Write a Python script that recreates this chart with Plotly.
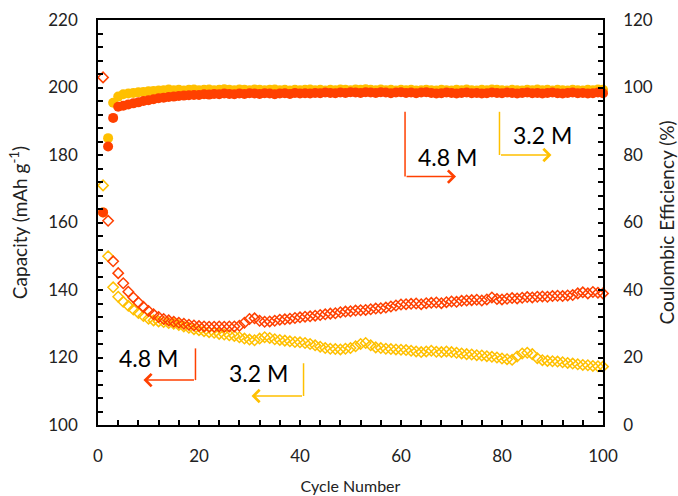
import plotly.graph_objects as go

cycles = list(range(1, 101))

# Discharge capacity (mAh g-1), left axis
cap_48 = [203, 160.5, 148.5, 145, 142, 139.5, 137.8, 136.3, 135, 133.8,
          132.8, 132, 131.4, 131, 130.6, 130.3, 130, 129.7, 129.5, 129.3,
          129.2, 129.1, 129.1, 129.2, 129.1, 129.2, 129.2, 129.4, 130.3, 131.4,
          131.6, 130.9, 130.6, 130.7, 130.9, 131.2, 131.3, 131.5, 131.7, 131.9,
          132.1, 132.2, 132.4, 132.6, 132.8, 133.0, 133.1, 133.4, 133.6, 133.7,
          133.9, 134.0, 134.1, 134.3, 134.5, 134.6, 134.8, 135.1, 135.4, 135.7,
          135.8, 135.9, 136.0, 135.8, 136.1, 136.2, 136.3, 136.1, 136.4, 136.6,
          136.5, 136.8, 136.9, 137.0, 137.1, 136.9, 137.2, 137.8, 137.3, 137.2,
          137.4, 137.6, 137.5, 137.7, 137.9, 137.8, 138.0, 138.1, 138.0, 138.2,
          138.3, 138.2, 138.4, 138.5, 139.0, 139.3, 139.0, 139.4, 139.2, 139.0]

cap_32 = [171, 150, 140.8, 138, 136.5, 135.3, 134.2, 133.2, 132.3, 131.5,
          131.0, 130.7, 130.5, 130.2, 130.0, 129.6, 129.2, 128.8, 128.4, 128.1,
          127.8, 127.5, 127.3, 127.0, 126.8, 126.6, 126.4, 126.0, 125.6, 125.3,
          125.1, 125.6, 126.0, 125.8, 125.4, 125.2, 125.0, 124.8, 124.6, 124.5,
          124.3, 124.0, 123.6, 123.2, 122.8, 122.6, 122.5, 122.4, 122.6, 122.8,
          123.3, 124.0, 124.3, 123.6, 123.0, 122.8, 122.6, 122.5, 122.4, 122.3,
          122.2, 122.0, 121.8, 121.6, 121.8, 122.0, 121.7, 121.6, 121.8, 121.6,
          121.4, 121.2, 121.0, 120.9, 120.7, 120.6, 120.4, 120.2, 120.0, 119.7,
          119.5, 119.3, 120.3, 121.2, 121.4, 121.0, 119.8, 119.2, 119.0, 118.9,
          118.8, 118.6, 118.4, 118.2, 118.0, 117.8, 117.7, 117.5, 117.4, 117.3]

# Coulombic efficiency (%), right axis
ce_48 = [63, 82.5, 91, 94.3, 94.6, 95, 95.3, 95.6, 96, 96.2,
         96.5, 96.8, 97, 97.2, 97.3, 97.5, 97.6, 97.7, 97.8, 97.8,
         98.0, 97.9, 98.1, 98.0, 98.2, 98.1, 98.0, 98.2, 98.1, 98.3,
         98.2, 98.1, 98.3, 98.2, 98.0, 98.2, 98.3, 98.1, 98.4, 98.2,
         98.3, 98.2, 98.4, 98.3, 98.5, 98.4, 98.3, 98.5, 98.4, 98.6,
         98.5, 98.4, 98.6, 98.5, 98.4, 98.6, 98.5, 98.3, 98.5, 98.6,
         98.4, 98.5, 98.3, 98.5, 98.6, 98.4, 98.2, 98.3, 98.5, 98.4,
         98.2, 98.4, 98.5, 98.3, 98.4, 98.2, 98.3, 98.5, 98.4, 98.3,
         98.5, 98.4, 98.2, 98.4, 98.5, 98.3, 98.4, 98.2, 98.4, 98.5,
         98.3, 98.2, 98.4, 98.5, 98.3, 98.4, 98.2, 98.3, 98.5, 98.3]

ce_32 = [63, 85, 95.5, 97.3, 98, 98.2, 98.4, 98.6, 98.7, 98.9,
         99.0, 99.1, 99.2, 99.4, 99.2, 99.3, 99.1, 99.3, 99.4, 99.2,
         99.3, 99.4, 99.2, 99.3, 99.5, 99.3, 99.2, 99.4, 99.3, 99.2,
         99.4, 99.3, 99.2, 99.3, 99.4, 99.2, 99.3, 99.1, 99.3, 99.2,
         99.3, 99.4, 99.2, 99.3, 99.1, 99.3, 99.2, 99.4, 99.3, 99.2,
         99.4, 99.3, 99.5, 99.3, 99.2, 99.4, 99.2, 99.3, 99.1, 99.3,
         99.2, 99.3, 99.1, 99.2, 99.3, 99.2, 99.1, 99.3, 99.2, 99.1,
         99.3, 99.2, 99.4, 99.2, 99.1, 99.3, 99.2, 99.4, 99.3, 99.2,
         99.1, 99.3, 99.2, 99.1, 99.3, 99.2, 99.4, 99.2, 99.3, 99.1,
         99.3, 99.2, 99.1, 99.3, 99.2, 99.1, 99.3, 99.2, 99.4, 99.3]

RED = "#FF4000"
YEL = "#FFC000"
FONT = "Lato"
TXT = "#222"

fig = go.Figure()
fig.add_trace(go.Scatter(x=cycles, y=cap_32, mode="markers", cliponaxis=False,
                         marker=dict(symbol="diamond-open", size=8, color=YEL, line=dict(width=1.5, color=YEL)),
                         name="3.2 M capacity"))
fig.add_trace(go.Scatter(x=cycles, y=cap_48, mode="markers", cliponaxis=False,
                         marker=dict(symbol="diamond-open", size=8, color=RED, line=dict(width=1.5, color=RED)),
                         name="4.8 M capacity"))
fig.add_trace(go.Scatter(x=cycles, y=ce_32, mode="markers", yaxis="y2", cliponaxis=False,
                         marker=dict(symbol="circle", size=10, color=YEL),
                         name="3.2 M CE"))
fig.add_trace(go.Scatter(x=cycles, y=ce_48, mode="markers", yaxis="y2", cliponaxis=False,
                         marker=dict(symbol="circle", size=10, color=RED),
                         name="4.8 M CE"))

# L-shaped arrows: vertical segment (shape) + horizontal arrow (annotation)
arrows = [
    # (x_vert, y_top, y_bottom, x_tip, color, label, lx, ly)
    (60.8, 192.8, 173.6, 70.9, RED, "4.8 M", 69.3, 179.5),
    (79.5, 192.8, 180.0, 89.8, YEL, "3.2 M", 88.1, 185.9),
    (19.3, 122.7, 113.3, 9.0, RED, "4.8 M", 10.0, 119.9),
    (40.7, 118.3, 108.6, 30.4, YEL, "3.2 M", 31.7, 115.3),
]
for xv, yt, yb, xt, col, lab, lx, ly in arrows:
    fig.add_shape(type="line", x0=xv, x1=xv, y0=yt, y1=yb, xref="x", yref="y",
                  line=dict(color=col, width=1.5))
    fig.add_annotation(x=xt, y=yb, ax=xv, ay=yb, xref="x", yref="y", axref="x", ayref="y",
                       text="", showarrow=True, arrowhead=4, arrowsize=1.6, arrowwidth=1.5,
                       arrowcolor=col)
    fig.add_annotation(x=lx, y=ly, xref="x", yref="y", text=lab, showarrow=False,
                       font=dict(family=FONT, size=23, color="black"))

minor = dict(dtick=4, ticks="inside", ticklen=5, tickwidth=1.5, tickcolor="black")
axis_common = dict(showline=True, linecolor="black", linewidth=1.5, ticks="inside",
                   ticklen=5, tickwidth=1.5, tickcolor="black", showgrid=False, zeroline=False,
                   tickfont=dict(family=FONT, size=17, color=TXT),
                   ticklabelstandoff=15, automargin=False, minor=minor)

fig.update_layout(
    width=678, height=496,
    margin=dict(l=98, r=75, t=20, b=71),
    plot_bgcolor="white", paper_bgcolor="white",
    showlegend=False,
    xaxis=dict(range=[0, 100], dtick=20, mirror=True,
               title=dict(text="Cycle Number", font=dict(family=FONT, size=16, color=TXT), standoff=16),
               **axis_common),
    yaxis=dict(range=[100, 220], dtick=20, mirror=True,
               title=dict(text="Capacity (mAh g<sup>-1</sup>)", font=dict(family=FONT, size=19, color=TXT), standoff=16),
               **axis_common),
    yaxis2=dict(range=[0, 120], dtick=20, overlaying="y", side="right",
                title=dict(text="Coulombic Efficiency (%)", font=dict(family=FONT, size=19, color=TXT), standoff=14),
                **axis_common),
)

fig.write_html("out.html")
